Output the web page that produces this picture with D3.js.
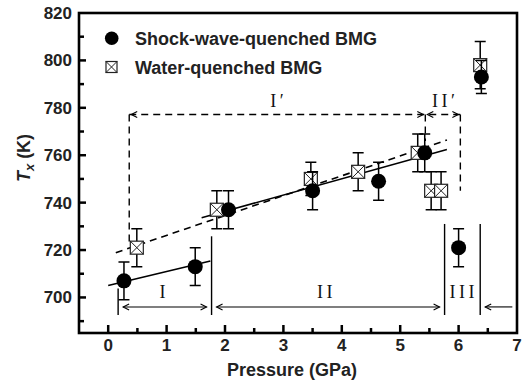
<!DOCTYPE html>
<html><head><meta charset="utf-8">
<script src="https://cdn.jsdelivr.net/npm/d3@7"></script>
<style>body{margin:0;background:#fff}svg{display:block}</style>
</head><body>
<svg id="c" width="523" height="385"></svg>
<script>
// ---- data ----
const shockP   = [0.27, 1.49, 2.06, 3.50, 4.63, 5.42, 6.00, 6.39];
const shockT   = [707, 713, 737, 745, 749, 761, 721, 793];
const shockErr = [8, 8, 8, 8, 8, 8, 8, 7];
const waterP   = [0.49, 1.86, 3.47, 4.28, 5.30, 5.53, 5.70, 6.37];
const waterT   = [721, 737, 750, 753, 761, 745, 745, 798];
const waterErr = [8, 8, 7, 8, 8, 8, 8, 10];
const fitShockI  = [[0.0, 705.0], [1.75, 715.4]];
const fitShockII = [[1.6, 733.6], [5.8, 762.4]];
const fitWater   = [[0.13, 718.9], [5.8, 766.4]];
const xTicks = [0,1,2,3,4,5,6,7];
const yTicks = [700,720,740,760,780,800,820];
const legendLabels = ["Shock-wave-quenched BMG", "Water-quenched BMG"];
// region annotations (data space)
const regionBounds = [0.17, 1.77, 5.76, 6.37];
const regionBoundTop = [703.8, 725.8, 731, 731];
const regionLabels = [["I", 0.93], ["II", 3.71], ["III", 6.06]];
const primeBounds = [0.36, 5.43, 6.03];
const primeBoundBottom = [722, 766, 745];
const primeLabels = [["I\u2032", 2.89], ["II\u2032", 5.74]];

// ---- layout ----
const svg = d3.select("#c");
const L = 79, R = 517, T = 13, B = 333;
const x = d3.scaleLinear().domain([-0.5, 7]).range([L, R]);
const y = d3.scaleLinear().domain([685, 820]).range([B, T]);
const sans = "'Liberation Sans', Arial, Helvetica, sans-serif";
const serif = "'Liberation Serif', 'Times New Roman', serif";

// ticks (inward)
const g = svg.append("g");
d3.range(-0.5, 7.01, 0.5).forEach(v => {
  if (v <= -0.5 || v >= 7) return;
  const major = Math.abs(v - Math.round(v)) < 1e-6;
  g.append("line").attr("x1", x(v)).attr("x2", x(v)).attr("y1", B).attr("y2", B - (major ? 8 : 5))
    .attr("stroke", "#000").attr("stroke-width", 2.5);
});
d3.range(690, 821, 10).forEach(v => {
  if (v >= 820) return;
  const major = v % 20 === 0;
  g.append("line").attr("x1", L).attr("x2", L + (major ? 7 : 5)).attr("y1", y(v)).attr("y2", y(v))
    .attr("stroke", "#000").attr("stroke-width", 2.5);
});
xTicks.forEach(v => g.append("text").attr("x", x(v)).attr("y", 351).attr("text-anchor", "middle")
  .attr("font-family", sans).attr("font-weight", "bold").attr("font-size", 17).attr("fill", "#222").text(v));
yTicks.forEach(v => g.append("text").attr("x", 72).attr("y", y(v) + 6).attr("text-anchor", "end")
  .attr("font-family", sans).attr("font-weight", "bold").attr("font-size", 17).attr("fill", "#222").text(v));

// axis titles
svg.append("text").attr("x", 292).attr("y", 376).attr("text-anchor", "middle")
  .attr("font-family", sans).attr("font-weight", "bold").attr("font-size", 18).attr("fill", "#222").text("Pressure (GPa)");
const yt = svg.append("text").attr("transform", "translate(30,158) rotate(-90)").attr("text-anchor", "middle")
  .attr("font-family", sans).attr("font-weight", "bold").attr("font-size", 18).attr("fill", "#222");
yt.append("tspan").attr("font-style", "italic").text("T");
yt.append("tspan").attr("font-style", "italic").attr("font-size", 13).attr("dy", 4).text("x");
yt.append("tspan").attr("dy", -4).text(" (K)");

// helpers
const line = d3.line().x(d => x(d[0])).y(d => y(d[1]));
function seg(p1, p2, opts = {}) {
  svg.append("path").attr("d", line([p1, p2])).attr("fill", "none").attr("stroke", "#000")
    .attr("stroke-width", opts.w || 1.3).attr("stroke-dasharray", opts.dash || null);
}
function arrowHead(px, py, dir) { // dir: -1 left, +1 right; px,py in pixels
  svg.append("path").attr("d", `M${px - dir * 6},${py - 3}L${px},${py}L${px - dir * 6},${py + 3}`)
    .attr("fill", "none").attr("stroke", "#000").attr("stroke-width", 1.1);
}
const ls = 3.5;

// fit lines
seg(fitShockI[0], fitShockI[1], { w: 1.6 });
seg(fitShockII[0], fitShockII[1], { w: 1.6 });
seg(fitWater[0], fitWater[1], { w: 1.6, dash: "7,5" });

// primed region (dashed)
const yPrime = 777.2;
seg([primeBounds[0], yPrime], [primeBounds[2], yPrime], { w: 1.4, dash: "7,5" });
primeBounds.forEach((b, i) => seg([b, yPrime], [b, primeBoundBottom[i]], { w: 1.4, dash: "7,5" }));
arrowHead(x(primeBounds[0]) + 2, y(yPrime), -1);
arrowHead(x(primeBounds[1]) - 2, y(yPrime), 1);
arrowHead(x(primeBounds[1]) + 2, y(yPrime), -1);
arrowHead(x(primeBounds[2]) - 2, y(yPrime), 1);
primeLabels.forEach(([t, v]) => svg.append("text").attr("x", x(v) + ls / 2).attr("y", y(780.3)).attr("text-anchor", "middle")
  .attr("font-family", serif).attr("font-size", 18).attr("letter-spacing", ls).attr("fill", "#111").text(t));

// unprimed regions (solid)
const yArr = 696;
regionBounds.forEach((b, i) => seg([b, 692.6], [b, regionBoundTop[i]], { w: 1.4 }));
const gap = 5;
[[0, 1], [1, 2]].forEach(([a, b]) => {
  const x1 = x(regionBounds[a]) + gap, x2 = x(regionBounds[b]) - gap;
  svg.append("line").attr("x1", x1).attr("x2", x2).attr("y1", y(yArr)).attr("y2", y(yArr)).attr("stroke", "#000").attr("stroke-width", 1.1);
  arrowHead(x1, y(yArr), -1); arrowHead(x2, y(yArr), 1);
});
{
  const x1 = x(regionBounds[3]) + gap, x2 = x(6.92);
  svg.append("line").attr("x1", x1).attr("x2", x2).attr("y1", y(yArr)).attr("y2", y(yArr)).attr("stroke", "#000").attr("stroke-width", 1.1);
  arrowHead(x1, y(yArr), -1);
}
regionLabels.forEach(([t, v]) => svg.append("text").attr("x", x(v) + ls / 2).attr("y", y(699.6)).attr("text-anchor", "middle")
  .attr("font-family", serif).attr("font-size", 18).attr("letter-spacing", ls).attr("fill", "#111").text(t));

// error bars
function errBar(px, t, e) {
  const cx = x(px), cw = 5.5;
  svg.append("path").attr("d", `M${cx},${y(t - e)}V${y(t + e)}M${cx - cw},${y(t - e)}H${cx + cw}M${cx - cw},${y(t + e)}H${cx + cw}`)
    .attr("fill", "none").attr("stroke", "#000").attr("stroke-width", 1.5);
}
function crossSquare(cx, cy, s) {
  const h = s / 2;
  svg.append("rect").attr("x", cx - h).attr("y", cy - h).attr("width", s).attr("height", s)
    .attr("fill", "#fff").attr("stroke", "#222").attr("stroke-width", 1.2);
  svg.append("path").attr("d", `M${cx - h},${cy - h}L${cx + h},${cy + h}M${cx + h},${cy - h}L${cx - h},${cy + h}`)
    .attr("stroke", "#222").attr("stroke-width", 1);
}
waterP.forEach((p, i) => errBar(p, waterT[i], waterErr[i]));
waterP.forEach((p, i) => crossSquare(x(p), y(waterT[i]), 13));
shockP.forEach((p, i) => errBar(p, shockT[i], shockErr[i]));
shockP.forEach((p, i) => svg.append("circle").attr("cx", x(p)).attr("cy", y(shockT[i])).attr("r", 7.5).attr("fill", "#000"));

// legend
svg.append("circle").attr("cx", 111.7).attr("cy", 38.3).attr("r", 6.8).attr("fill", "#000");
crossSquare(111.5, 67, 11);
legendLabels.forEach((t, i) => svg.append("text").attr("x", 135).attr("y", 45 + i * 28.5)
  .attr("font-family", sans).attr("font-weight", "bold").attr("font-size", 18).attr("fill", "#222").text(t));

// frame
svg.append("rect").attr("x", L).attr("y", T).attr("width", R - L).attr("height", B - T)
  .attr("fill", "none").attr("stroke", "#000").attr("stroke-width", 2.6);
</script>
</body></html>
